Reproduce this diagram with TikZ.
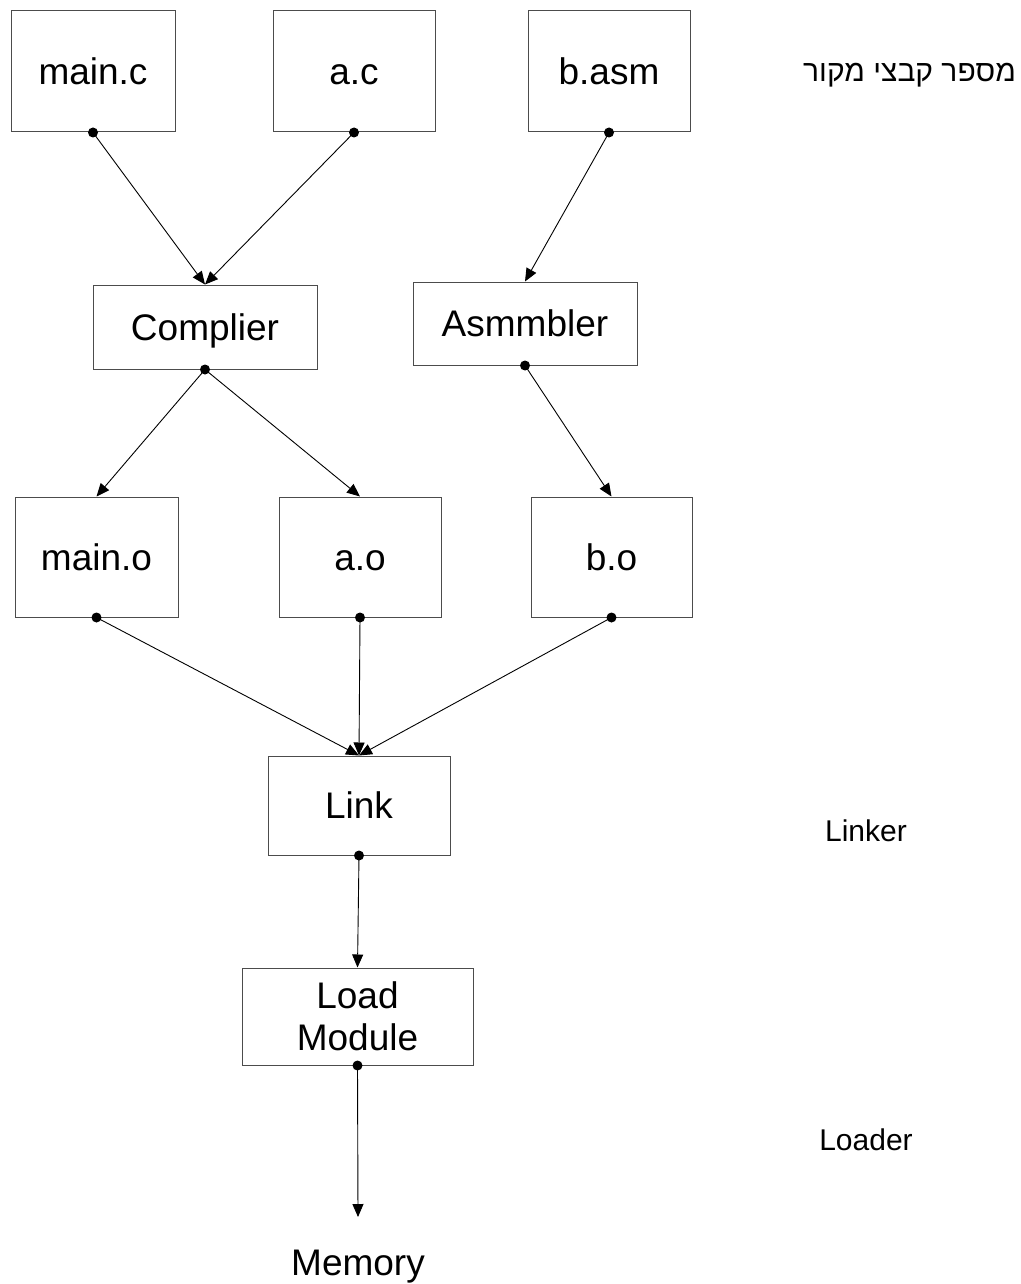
\documentclass[tikz,border=0pt]{standalone}
\usepackage{fontspec}
\setmainfont{Liberation Sans}
\newfontfamily\hebfont[Script=Hebrew]{Liberation Sans}
\TeXXeTstate=1
\usetikzlibrary{arrows.meta}

\begin{document}
\begin{tikzpicture}[x=1pt,y=-1pt,
  box/.style={draw=black!70, line width=1pt, inner sep=0pt, align=center,
    font=\fontsize{37}{42}\selectfont, text height=26pt, text depth=0pt},
  conn/.style={draw=black, line width=0.9pt, -{Triangle[length=13pt,width=11pt]}},
  dot/.style={fill=black},
  lbl/.style={inner sep=0pt, font=\fontsize{30}{36}\selectfont, anchor=base},
  biglbl/.style={inner sep=0pt, font=\fontsize{37}{42}\selectfont, anchor=base}
]
\useasboundingbox (0,0) rectangle (1020,1284);

% source files
\node[box, minimum width=164pt, minimum height=121pt] (mainc) at (93,71.5) {main.c};
\node[box, minimum width=162pt, minimum height=121pt] (ac)    at (354,71.5) {a.c};
\node[box, minimum width=162pt, minimum height=121pt] (basm)  at (609,71.5) {b.asm};

% translators
\node[box, minimum width=224pt, minimum height=84pt] (comp) at (205,327) {Complier};
\node[box, minimum width=224pt, minimum height=83pt] (asm)  at (525,323.5) {Asmmbler};

% object files
\node[box, minimum width=163pt, minimum height=120pt] (maino) at (96.5,557) {main.o};
\node[box, minimum width=162pt, minimum height=120pt] (ao)    at (360,557) {a.o};
\node[box, minimum width=161pt, minimum height=120pt] (bo)    at (611.5,557) {b.o};

% link and load
\node[box, minimum width=182pt, minimum height=99pt] (link) at (359,805.5) {Link};
\node[box, minimum width=231pt, minimum height=97pt, text height=, text depth=] (load) at (357.5,1016.5) {Load\\Module};

\coordinate (memtip) at (358,1217);
\node[biglbl] (mem) at (358,1275) {Memory};

% side labels
\node[lbl, anchor=base east] (heb) at (1016,82) {\hebfont\beginR מספר קבצי מקור\endR};
\node[lbl] (linker) at (866,841) {Linker};
\node[lbl] (loader) at (866,1150) {Loader};

% connectors
\draw[conn] (mainc.south) -- (comp.north);
\draw[conn] (ac.south) -- (comp.north);
\draw[conn] (basm.south) -- (asm.north);
\draw[conn] (comp.south) -- (maino.north);
\draw[conn] (comp.south) -- (ao.north);
\draw[conn] (asm.south) -- (bo.north);
\draw[conn] (maino.south) -- (link.north);
\draw[conn] (ao.south) -- (link.north);
\draw[conn] (bo.south) -- (link.north);
\draw[conn] (link.south) -- (load.north);
\draw[conn] (load.south) -- (memtip);

% start dots
\foreach \n in {mainc,ac,basm,comp,asm,maino,ao,bo,link,load}
  \fill[dot] (\n.south) circle (5pt);
\end{tikzpicture}
\end{document}
